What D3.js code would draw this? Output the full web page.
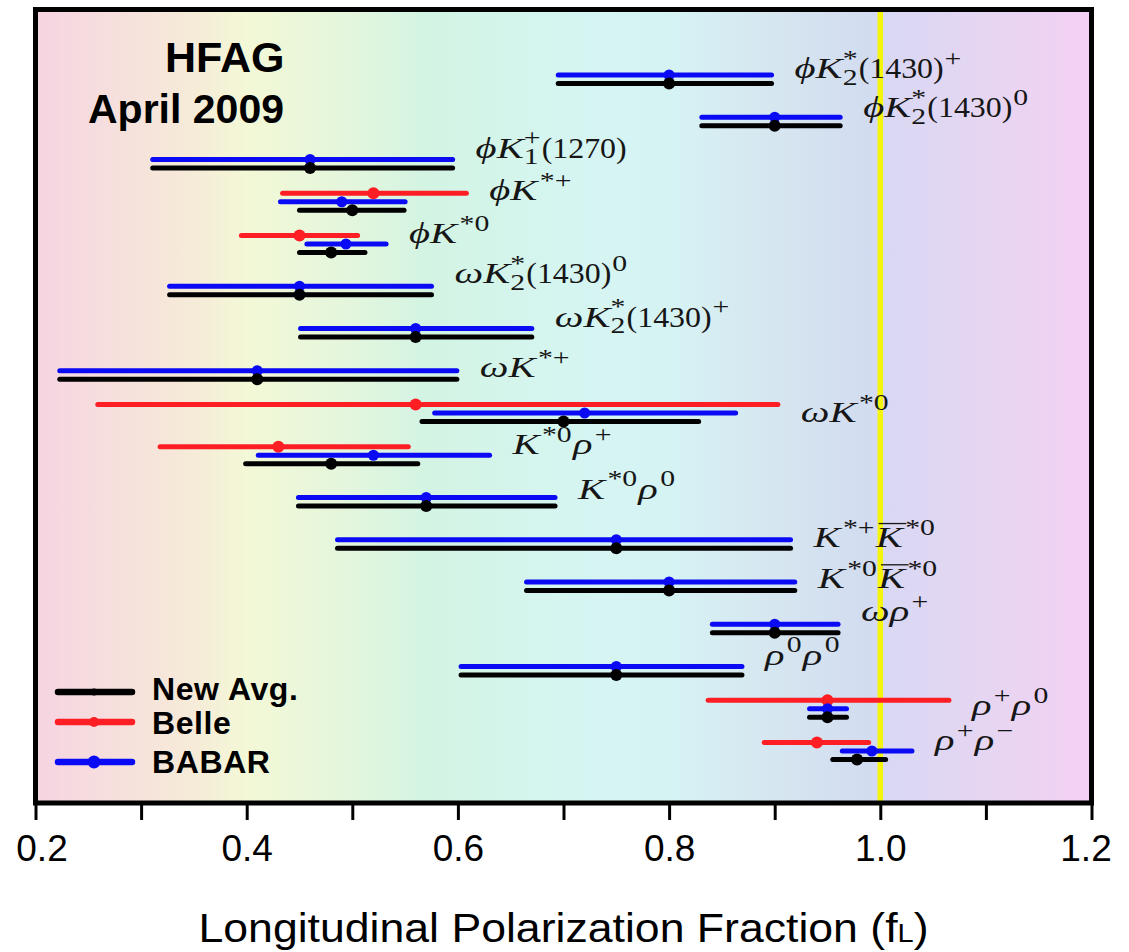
<!DOCTYPE html>
<html>
<head>
<meta charset="utf-8">
<script src="https://cdn.jsdelivr.net/npm/d3@7"></script>
<style>
  body { margin: 0; background: #ffffff; }
  svg { display: block; }
</style>
</head>
<body>
<svg id="chart" width="1129" height="952"></svg>
<script>
// ---- Data: longitudinal polarization fraction f_L per B -> VV mode ----
const modes = [
  "ϕK_2^*(1430)^+", "ϕK_2^*(1430)^0", "ϕK_1^+(1270)", "ϕK^{*+}", "ϕK^{*0}",
  "ωK_2^*(1430)^0", "ωK_2^*(1430)^+", "ωK^{*+}", "ωK^{*0}", "K^{*0}ρ^+",
  "K^{*0}ρ^0", "K^{*+}\\bar{K}^{*0}", "K^{*0}\\bar{K}^{*0}", "ωρ^+", "ρ^0ρ^0",
  "ρ^+ρ^0", "ρ^+ρ^−"
];

// HFAG average (central value, lower and upper end of the error bar)
const avgVal = [0.80, 0.90, 0.46, 0.50, 0.48, 0.45, 0.56, 0.41, 0.70, 0.48, 0.57, 0.75, 0.80, 0.90, 0.75, 0.95, 0.978];
const avgLo  = [0.695, 0.831, 0.311, 0.450, 0.450, 0.327, 0.451, 0.223, 0.566, 0.399, 0.449, 0.486, 0.665, 0.841, 0.603, 0.933, 0.955];
const avgHi  = [0.897, 0.962, 0.595, 0.549, 0.512, 0.575, 0.670, 0.599, 0.828, 0.562, 0.692, 0.915, 0.919, 0.960, 0.869, 0.968, 1.005];

// BABAR measurements
const babarVal = [0.80, 0.90, 0.46, 0.49, 0.494, 0.45, 0.56, 0.41, 0.72, 0.52, 0.57, 0.75, 0.80, 0.90, 0.75, 0.95, 0.992];
const babarLo  = [0.695, 0.831, 0.311, 0.432, 0.457, 0.327, 0.451, 0.223, 0.578, 0.411, 0.449, 0.486, 0.665, 0.841, 0.603, 0.933, 0.964];
const babarHi  = [0.897, 0.962, 0.595, 0.550, 0.532, 0.575, 0.670, 0.599, 0.863, 0.630, 0.692, 0.915, 0.919, 0.960, 0.869, 0.968, 1.030];

// Belle measurements (null where Belle has no result)
const belleVal = [null, null, null, 0.52, 0.45, null, null, null, 0.56, 0.43, null, null, null, null, null, 0.95, 0.94];
const belleLo  = [null, null, null, 0.434, 0.395, null, null, null, 0.259, 0.318, null, null, null, null, null, 0.837, 0.890];
const belleHi  = [null, null, null, 0.608, 0.505, null, null, null, 0.903, 0.553, null, null, null, null, null, 1.065, 0.989];

const xTicks = [0.2, 0.3, 0.4, 0.5, 0.6, 0.7, 0.8, 0.9, 1.0, 1.1, 1.2];
const xTickLabels = ["0.2", "", "0.4", "", "0.6", "", "0.8", "", "1.0", "", "1.2"];
const legendNames = ["New Avg.", "Belle", "BABAR"];
const titleLines = ["HFAG", "April 2009"];

// ---- Layout ----
const svg = d3.select("#chart");
const frame = { left: 35.5, right: 1091.5, top: 9.5, bottom: 803 };

const x = d3.scaleLinear().domain([0.2, 1.2]).range([frame.left, frame.right]);
const y = d3.scalePoint().domain(d3.range(modes.length)).range([75, 751]);

// baseline nudges for the mode labels (pixels, relative to the BABAR bar)
const labelDy = [3, 0, -2, -2, -1, -3, -2, 6, 9, -1, 1, 7, 6, -3, -2, 6, -1];

const series = [
  { name: "Belle",    val: belleVal, lo: belleLo, hi: belleHi, dy: -8.5, color: "#ff1e24", r: 6 },
  { name: "BABAR",    val: babarVal, lo: babarLo, hi: babarHi, dy: 0,    color: "#0a0af5", r: 5.5 },
  { name: "New Avg.", val: avgVal,   lo: avgLo,   hi: avgHi,   dy: 8.5,  color: "#000000", r: 6 }
];

// ---- Background gradient ----
const bgStops = [
  [0.20, "#f6d4e2"], [0.35, "#f6ebd8"], [0.40, "#f3f8d6"], [0.50, "#e3f6dd"],
  [0.57, "#d3f4e3"], [0.70, "#d5f5f1"], [0.80, "#d6f3f4"], [0.90, "#d6e6f0"],
  [0.99, "#d2dcf0"], [1.00, "#d8d8f4"], [1.10, "#e6d6f2"], [1.20, "#f4d0f4"]
];
const defs = svg.append("defs");
const grad = defs.append("linearGradient")
  .attr("id", "bg").attr("gradientUnits", "userSpaceOnUse")
  .attr("x1", x(0.2)).attr("x2", x(1.2)).attr("y1", 0).attr("y2", 0);
grad.selectAll("stop").data(bgStops).join("stop")
  .attr("offset", d => (d[0] - 0.2) / 1.0)
  .attr("stop-color", d => d[1]);

svg.append("rect")
  .attr("x", frame.left).attr("y", frame.top)
  .attr("width", frame.right - frame.left).attr("height", frame.bottom - frame.top)
  .attr("fill", "url(#bg)");

// f_L = 1 reference line
svg.append("line")
  .attr("x1", x(1.0)).attr("x2", x(1.0))
  .attr("y1", frame.top).attr("y2", frame.bottom)
  .attr("stroke", "#f4f40c").attr("stroke-width", 5.5);

// ---- Error bars and central values ----
const marks = svg.append("g");
series.forEach(s => {
  const idx = d3.range(modes.length).filter(i => s.val[i] != null);
  const g = marks.append("g");
  g.selectAll("line").data(idx).join("line")
    .attr("x1", i => x(s.lo[i])).attr("x2", i => x(s.hi[i]))
    .attr("y1", i => y(i) + s.dy).attr("y2", i => y(i) + s.dy)
    .attr("stroke", s.color).attr("stroke-width", 5)
    .attr("stroke-linecap", "round");
  g.selectAll("circle").data(idx).join("circle")
    .attr("cx", i => x(s.val[i])).attr("cy", i => y(i) + s.dy)
    .attr("r", s.r).attr("fill", s.color);
});

// ---- Mode labels (small TeX-like typesetter) ----
function parseLabel(src) {
  const segs = [];
  let i = 0;
  const group = () => {
    if (src[i] === "{") { const j = src.indexOf("}", i); const g = src.slice(i + 1, j); i = j + 1; return g; }
    return src[i++];
  };
  while (i < src.length) {
    if (src.startsWith("\\bar", i)) { i += 4; segs.push({ t: group(), pos: "base", bar: true }); }
    else if (src[i] === "^" || src[i] === "_") { const p = src[i] === "^" ? "sup" : "sub"; i++; segs.push({ t: group(), pos: p }); }
    else { segs.push({ t: src[i], pos: "base" }); i++; }
  }
  return segs;
}

const fs = 29;
const isLetter = ch => /[A-Za-zα-ωϕ]/.test(ch);
const labelLayer = svg.append("g")
  .attr("font-family", "'Liberation Serif', 'DejaVu Serif', serif")
  .attr("fill", "#161616");

// one glyph, widened a little to give the roomy math-italic look
function glyph(g, ch, gx, gy, size, script) {
  const italic = isLetter(ch);
  const sx = script ? 1.35 : (italic ? 1.4 : 1.1);
  const t = g.append("text")
    .attr("font-size", size)
    .attr("font-style", italic ? "italic" : "normal")
    .attr("transform", `translate(${gx},${gy}) scale(${sx},1)`)
    .text(ch);
  return t.node().getComputedTextLength() * sx;
}

modes.forEach((m, i) => {
  const ends = series.map(s => s.val[i] != null ? s.hi[i] : -Infinity);
  const x0 = x(d3.max(ends)) + 23;
  const g = labelLayer.append("g").attr("transform", `translate(${x0},${y(i) + labelDy[i]})`);
  let cursor = 0, prev = null;
  parseLabel(m).forEach(seg => {
    const script = seg.pos !== "base";
    const size = script ? fs * 0.76 : fs;
    const shift = seg.pos === "sup" ? -0.42 * fs : seg.pos === "sub" ? 0.24 * fs : 0;
    let sx = cursor;
    if (script && prev && prev.script && prev.pos !== seg.pos) sx = prev.x;   // stack sub/sup
    else if (seg.pos === "sup" && prev && prev.italic) sx += 0.08 * fs;       // italic correction
    else if (seg.pos === "sup" && prev && !prev.script) sx += 0.03 * fs;
    else if (seg.pos === "base" && prev && prev.script) sx += 0.04 * fs;
    let w = 0;
    [...seg.t].forEach(ch => { w += glyph(g, ch, sx + w, shift, size, script); });
    if (seg.bar) {
      g.append("line").attr("x1", sx + 0.1 * fs).attr("x2", sx + w + 0.12 * fs)
        .attr("y1", -0.8 * fs).attr("y2", -0.8 * fs)
        .attr("stroke", "#161616").attr("stroke-width", 1.3);
    }
    cursor = Math.max(cursor, sx + w);
    prev = { script, pos: seg.pos, x: sx, italic: !script && isLetter(seg.t[seg.t.length - 1]) };
  });
});

// ---- Legend ----
const legendY = [692, 722, 762];
const legendOrder = ["New Avg.", "Belle", "BABAR"];
const legendR = [3.5, 5, 6.5];
const legend = svg.append("g");
legendNames.forEach((name, k) => {
  const s = series.find(d => d.name === legendOrder[k]);
  const ly = legendY[k];
  legend.append("line").attr("x1", 58).attr("x2", 132).attr("y1", ly).attr("y2", ly)
    .attr("stroke", s.color).attr("stroke-width", 6.5).attr("stroke-linecap", "round");
  legend.append("circle").attr("cx", 94).attr("cy", ly).attr("r", legendR[k]).attr("fill", s.color);
  legend.append("text").attr("x", 152).attr("y", ly + 8 + (k === 0 ? 0 : (k === 1 ? 4 : 3)))
    .attr("font-family", "'Liberation Sans', Arial, sans-serif").attr("font-weight", "bold")
    .attr("font-size", 32).attr("letter-spacing", 0.6).attr("fill", "#000").text(name);
});

// ---- Header ----
svg.append("text").attr("x", 165).attr("y", 72)
  .attr("font-family", "'Liberation Sans', Arial, sans-serif").attr("font-weight", "bold")
  .attr("font-size", 43).text(titleLines[0]);
svg.append("text").attr("x", 88).attr("y", 123)
  .attr("font-family", "'Liberation Sans', Arial, sans-serif").attr("font-weight", "bold")
  .attr("font-size", 41).text(titleLines[1]);

// ---- Frame ----
svg.append("rect")
  .attr("x", frame.left).attr("y", frame.top)
  .attr("width", frame.right - frame.left).attr("height", frame.bottom - frame.top)
  .attr("fill", "none").attr("stroke", "#000").attr("stroke-width", 5);

// ---- X axis ----
const axis = d3.axisBottom(x).tickValues(xTicks).tickSize(17).tickPadding(0)
  .tickFormat((d, k) => xTickLabels[k]);
const ax = svg.append("g").attr("transform", `translate(0,${frame.bottom})`).call(axis);
ax.select(".domain").remove();
ax.selectAll(".tick line").attr("stroke", "#000").attr("stroke-width", 3);
ax.selectAll(".tick text")
  .attr("y", 58).attr("dy", 0)
  .attr("dx", (d, k) => k === 0 ? 6 : (k === xTicks.length - 1 ? -6 : 0))
  .attr("font-family", "'Liberation Sans', Arial, sans-serif")
  .attr("font-size", 37).attr("fill", "#000");

const title = svg.append("text")
  .attr("transform", `translate(${(frame.left + frame.right) / 2},942) scale(1.115,1)`)
  .attr("text-anchor", "middle")
  .attr("font-family", "'Liberation Sans', Arial, sans-serif")
  .attr("font-size", 40).attr("fill", "#000");
title.append("tspan").text("Longitudinal Polarization Fraction (f");
title.append("tspan").text("L").attr("font-size", 26);
title.append("tspan").text(")");
</script>
</body>
</html>
